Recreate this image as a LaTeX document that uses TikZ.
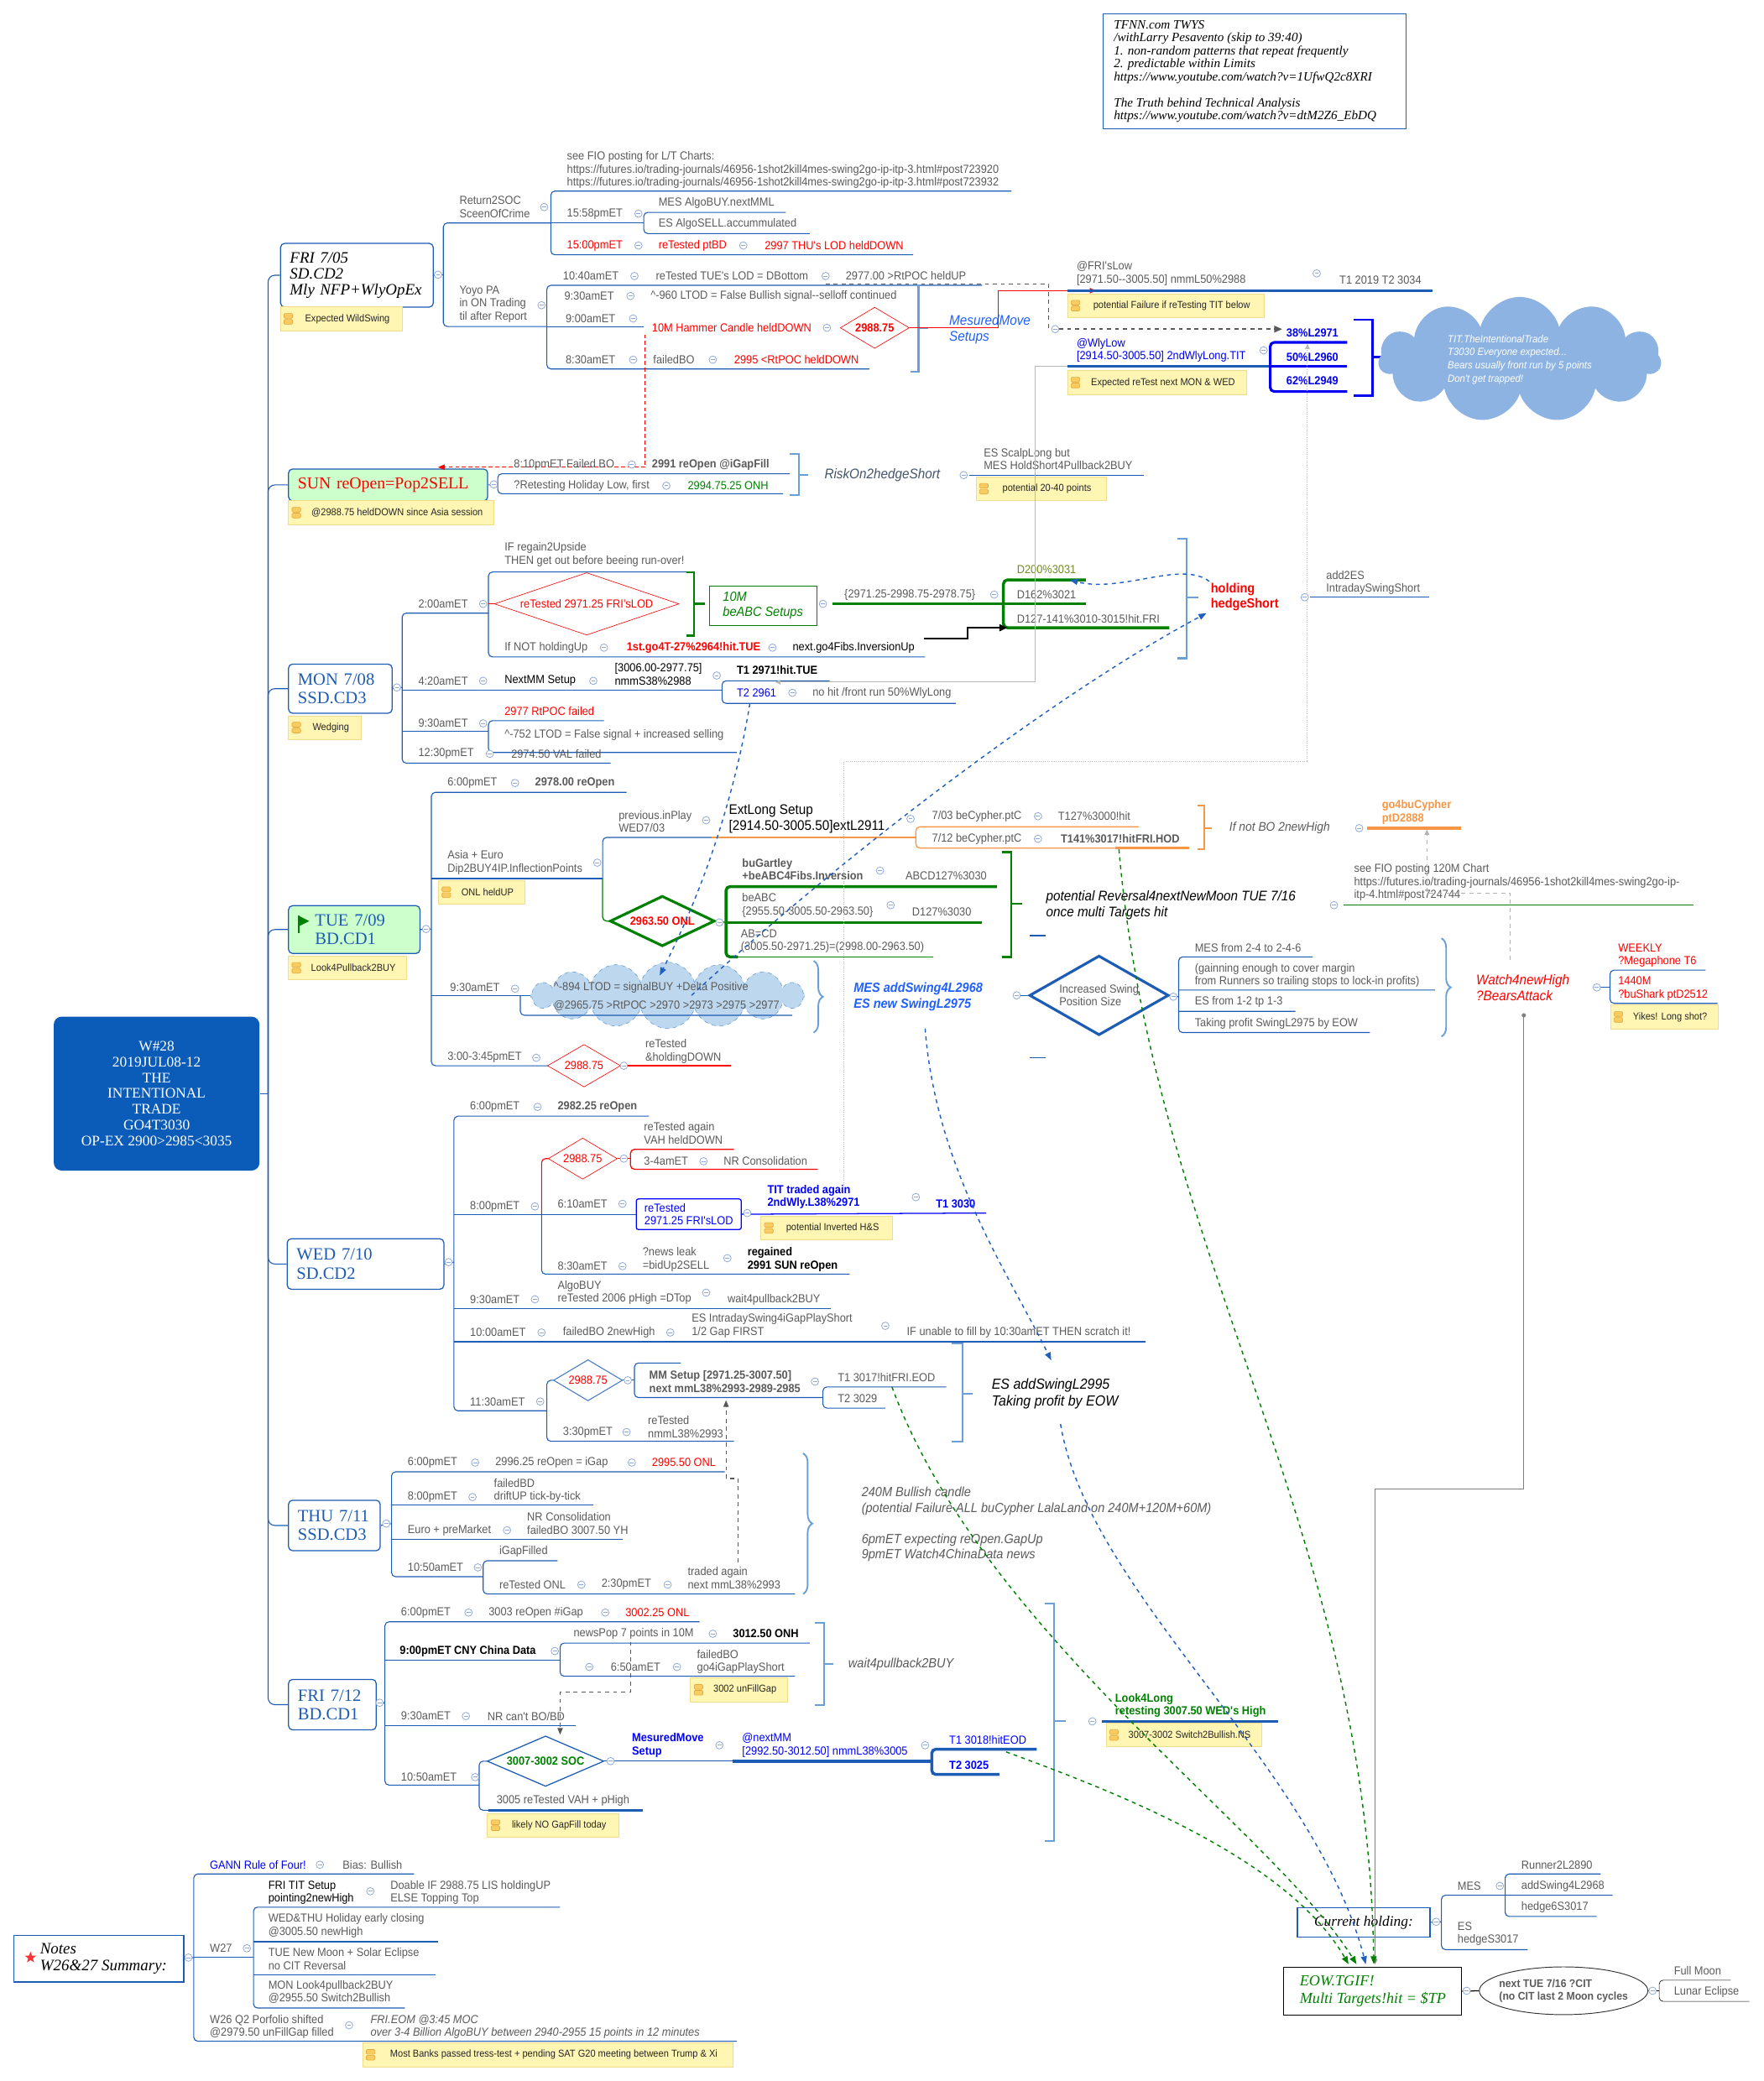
\documentclass[tikz,border=0pt]{standalone}
\usepackage{fontspec}
\setmainfont{Liberation Serif}
\newfontfamily\nar{Liberation Sans}[FakeStretch=0.92]
\usetikzlibrary{arrows.meta,shapes.geometric,shapes.symbols,decorations.pathreplacing,positioning}

\definecolor{lnblue}{HTML}{1D5CB4}
\definecolor{brk}{HTML}{6A9FD8}
\definecolor{txgray}{HTML}{5A5A5A}
\definecolor{ccol}{HTML}{8FA8D8}
\definecolor{noteY}{HTML}{FFF6B3}
\definecolor{noteB}{HTML}{F0DC8A}
\definecolor{iconO}{HTML}{F8CC60}
\definecolor{iconB}{HTML}{E6A93E}
\definecolor{rootB}{HTML}{0B5CB8}
\definecolor{grn}{HTML}{008000}
\definecolor{olv}{HTML}{6E8B1E}
\definecolor{orng}{HTML}{F79646}
\definecolor{cloudB}{HTML}{8DB3E2}
\definecolor{cloudL}{HTML}{BDD7EE}
\definecolor{sunG}{HTML}{CCFFCC}
\definecolor{tit}{HTML}{0000F0}
\definecolor{brblue}{HTML}{1F5FFF}
\definecolor{relblue}{HTML}{1F5FBF}
\definecolor{titgray}{HTML}{44546A}

\newcommand\tx[4][]{\node[tx,#1] (#2) at (#3) {#4};}
\newcommand\note[4][]{%
  \node[note,#1] (#2) at (#3) {\hspace*{9pt}#4};
  \draw[draw=iconB,fill=iconO,rounded corners=0.8pt] ([xshift=3pt,yshift=0.4pt]#2.west) rectangle ++(6.5pt,3.6pt);
  \draw[draw=iconB,fill=iconO,rounded corners=0.8pt] ([xshift=3pt,yshift=-0.4pt]#2.west) rectangle ++(6.5pt,-3.6pt);}

\begin{document}
\begin{tikzpicture}[x=1pt,y=-1pt,
  tx/.style={font=\nar\fontsize{8.8}{9.8}\selectfont, text=txgray, anchor=west, inner sep=0pt, align=left},
  bld/.style={font=\nar\bfseries\fontsize{8.8}{9.8}\selectfont},
  hd/.style={tx, font=\nar\itshape\fontsize{10.5}{12}\selectfont},
  ul/.style={draw=lnblue, line width=0.7pt},
  brkt/.style={draw=brk, line width=1.3pt},
  cbr/.style={draw=brk, line width=1.2pt, decorate, decoration={brace, amplitude=7pt}},
  day/.style={draw=lnblue, line width=0.8pt, rounded corners=3pt, fill=white, anchor=north west, align=left, text=lnblue, font=\fontsize{13}{14}\selectfont, inner xsep=7pt, inner ysep=0pt},
  note/.style={fill=noteY, draw=noteB, line width=0.5pt, anchor=north west, minimum height=18, inner xsep=3pt, inner ysep=0pt, font=\nar\fontsize{7.6}{8.5}\selectfont, text=black!85},
  rdia/.style={diamond, draw=red, text=red, inner sep=0pt, aspect=1.7, font=\nar\fontsize{8.8}{9.8}\selectfont},
  reld/.style={dashed, line width=0.9pt, -{Triangle[length=6pt,width=4.5pt]}},
  grel/.style={draw=gray!55, line width=0.6pt, -{Triangle[length=4pt,width=3.5pt]}},
  cc/.pic={\draw[ccol,line width=0.5pt,fill=white] (0,0) circle (2.8); \draw[ccol,line width=0.5pt] (-1.5,0) -- (1.5,0);}
]
\useasboundingbox (0,0) rectangle (1329,1568);

% reference box top right
\node[draw=lnblue, line width=0.6pt, anchor=north west, minimum width=228, minimum height=87, inner sep=0pt] (tfnn) at (831,10) {};
\node[anchor=north west, align=left, inner sep=0pt, font=\itshape\fontsize{9.6}{9.8}\selectfont] (tfnntx) at (839,15) {TFNN.com TWYS\\/withLarry Pesavento (skip to 39:40)\\1. non-random patterns that repeat frequently\\2. predictable within Limits\\https://www.youtube.com/watch?v=1UfwQ2c8XRI\\[9.8pt]The Truth behind Technical Analysis\\https://www.youtube.com/watch?v=dtM2Z6\_EbDQ};

% central topic and days
\node[fill=rootB, rounded corners=6pt, minimum width=155, minimum height=116, text=white, align=center, font=\fontsize{11}{12}\selectfont] (w28) at (118,824) {W\#28\\2019JUL08-12\\THE\\INTENTIONAL\\TRADE\\GO4T3030\\OP-EX 2900>2985<3035};
\node[day, text width=101, minimum height=48, text=black, font=\itshape\fontsize{12}{12}\selectfont] (fri05) at (211,183) {FRI 7/05\\SD.CD2\\Mly NFP+WlyOpEx};
\node[day, fill=sunG, text width=136, minimum height=24, text=red, font=\fontsize{12.5}{14}\selectfont] (sun) at (217,353) {SUN reOpen=Pop2SELL};
\node[day, text width=64, minimum height=37] (mon) at (217,500) {MON 7/08\\SSD.CD3};
\node[day, fill=sunG, text width=85, minimum height=36] (tue) at (217,682) {\hspace*{13pt}TUE 7/09\\\hspace*{13pt}BD.CD1};
\node[day, text width=104, minimum height=38] (wed) at (216,933) {WED 7/10\\SD.CD2};
\node[day, text width=55, minimum height=38] (thu) at (217,1130) {THU 7/11\\SSD.CD3};
\node[day, text width=52, minimum height=38] (fri12) at (217,1265) {FRI 7/12\\BD.CD1};
\fill[grn] (225,690) -- (233,694) -- (225,698) -- cycle;
\draw[grn, line width=0.8pt] (225,690) -- (225,703);
\note[minimum width=92]{nfri}{211,231}{Expected WildSwing}
\note[minimum width=155]{nsun}{217,377}{@2988.75 heldDOWN since Asia session}
\note[minimum width=55]{nmon}{217,539}{Wedging}
\note[minimum width=89]{ntue}{217,720}{Look4Pullback2BUY}
\draw[ul] (w28.east) -- (202,824);
\foreach \d in {fri05,sun,mon,tue,wed,thu,fri12}
  \draw[ul,rounded corners=5pt] (\d.west) -| (202,824);

% FRI 7/05
\draw[ul] (fri05.east) -- (334,207);
\draw[ul,rounded corners=3pt] (415,168) -- (334,168) -- (334,246) -- (412,246);
\tx{ret}{346,156}{Return2SOC\\SceenOfCrime}
\draw[ul,rounded corners=3pt] (762,144) -- (415,144) -- (415,192) -- (688,192);
\draw[ul] (415,168) -- (485,168);
\tx{fio}{427,128}{see FIO posting for L/T Charts:\\https://futures.io/trading-journals/46956-1shot2kill4mes-swing2go-ip-itp-3.html\#post723920\\https://futures.io/trading-journals/46956-1shot2kill4mes-swing2go-ip-itp-3.html\#post723932}
\tx{t1558}{427,161}{15:58pmET}
\draw[ul,rounded corners=3pt] (592,160) -- (485,160) -- (485,176) -- (610,176);
\tx{mesalgo}{496,153}{MES AlgoBUY.nextMML}
\tx{esalgo}{496,169}{ES AlgoSELL.accummulated}
\tx[text=red]{t1500}{427,185}{15:00pmET}
\tx[text=red]{ptbd}{496,185}{reTested ptBD}
\tx[text=red]{thulod}{576,185}{2997 THU's LOD heldDOWN}
\tx{yoyo}{346,229}{Yoyo PA\\in ON Trading\\til after Report}
\draw[ul,rounded corners=3pt] (740,215) -- (412,215) -- (412,278) -- (655,278);
\draw[ul] (412,246) -- (485,246);
\tx{t1040}{424,208}{10:40amET}
\tx{tuelod}{494,208}{reTested TUE's LOD = DBottom}
\tx{rtpocup}{637,208}{2977.00 >RtPOC heldUP}
\tx{t930a}{425,223}{9:30amET}
\tx{ltod960}{490,223}{\textasciicircum-960 LTOD = False Bullish signal-{}-selloff continued}
\tx{t900}{426,240}{9:00amET}
\tx[text=red]{hammer}{491,247}{10M Hammer Candle heldDOWN}
\node[rdia, minimum width=52, minimum height=31, font=\nar\bfseries\fontsize{8.8}{9.8}\selectfont] (d2988a) at (659,247) {2988.75};
\tx{t830a}{426,271}{8:30amET}
\tx{fboa}{492,271}{failedBO}
\tx[text=red]{rtpoc2995}{553,271}{2995 <RtPOC heldDOWN}
\draw[brkt] (686,215) -- (692,215) -- (692,280) -- (686,280);
\draw[brkt] (692,247) -- (699,247);
\node[hd, text=brblue] (mmset) at (715,248) {MesuredMove\\Setups};
\draw[red, line width=0.8pt, -{Triangle[length=5pt,width=4pt]}] (d2988a.east) -- (752,247) -- (752,219) -- (826,219);
\draw[red, densely dashed, line width=0.6pt, -{Triangle[length=5pt,width=4pt]}] (486,252) |- (330,352);
\draw[gray!70!black, dashed, line width=1.1pt, -{Triangle[length=6pt,width=5pt]}] (622,214) -- (790,214) -- (790,248) -- (966,248);

% weekly levels top right
\tx{frilow}{811,206}{@FRI'sLow\\{}[2971.50--3005.50] nmmL50\%2988}
\draw[lnblue, line width=2.2pt] (804,219) -- (1079,219);
\tx{t12019}{1009,211}{T1 2019 T2 3034}
\note[minimum width=148]{nfail}{804,221}{potential Failure if reTesting TIT below}
\tx[text=tit]{wlylow}{811,264}{@WlyLow\\{}[2914.50-3005.50] 2ndWlyLong.TIT}
\draw[lnblue, line width=2.2pt] (804,276) -- (957,276);
\note[minimum width=135]{nretest}{804,279}{Expected reTest next MON \& WED}
\tx[text=tit, bld]{fib38}{969,251}{38\%L2971}
\tx[text=tit, bld]{fib50}{969,269}{50\%L2960}
\tx[text=tit, bld]{fib62}{969,287}{62\%L2949}
\draw[tit, line width=2pt, rounded corners=3pt] (1015,258) -- (957,258) -- (957,295) -- (1015,295);
\draw[tit, line width=2pt] (957,276) -- (1015,276);
\draw[tit, line width=1.5pt] (1020,241) -- (1034,241) -- (1034,298) -- (1020,298);
\draw[tit, line width=1.5pt] (1034,269) -- (1047,269);
\node[cloud, cloud puffs=11, aspect=2.4, fill=cloudB, minimum width=213, minimum height=88, inner sep=0pt, text=white, align=left, font=\nar\itshape\fontsize{7.8}{10}\selectfont] (titcloud) at (1145,271) {TIT.TheIntentionalTrade\\T3030 Everyone expected...\\Bears usually front run by 5 points\\Don't get trapped!};

% SUN
\draw[ul] (sun.east) -- (375,365);
\draw[ul,rounded corners=3pt] (595,357) -- (375,357) -- (375,372) -- (590,372);
\tx{fbo810}{387,350}{8:10pmET Failed BO}
\tx[bld]{reopen2991}{491,350}{2991 reOpen @iGapFill}
\tx{holiday}{387,366}{?Retesting Holiday Low, first}
\tx[text=grn]{onh}{518,366}{2994.75.25 ONH}
\draw[brkt] (595,342) -- (602,342) -- (602,373) -- (595,373);
\draw[brkt] (602,358) -- (609,358);
\node[hd, text=titgray] (risk) at (621,358) {RiskOn2hedgeShort};
\draw[ul] (730,358) -- (862,358);
\tx{scalp}{741,346}{ES ScalpLong but\\MES HoldShort4Pullback2BUY}
\note[minimum width=98]{n2040}{735,359}{potential 20-40 points}

% MON
\draw[ul] (mon.east) -- (303,518);
\draw[ul,rounded corners=3pt] (368,462) -- (303,462) -- (303,575) -- (460,575);
\draw[ul] (303,520) -- (544,520);
\draw[ul] (303,551) -- (368,551);
\tx{t200}{315,455}{2:00amET}
\draw[ul,rounded corners=3pt] (522,431) -- (368,431) -- (368,495) -- (697,495);
\tx{ifregain}{380,418}{IF regain2Upside\\THEN get out before beeing run-over!}
\node[rdia, aspect=3, minimum width=139, minimum height=47] (rt2971) at (442,455) {reTested 2971.25 FRI'sLOD};
\draw[red] (368,455) -- (rt2971.west);
\tx{ifnot}{380,488}{If NOT holdingUp}
\tx[text=red, bld]{go4t}{472,488}{1st.go4T-27\%2964!hit.TUE}
\tx[text=black]{go4fibs}{597,488}{next.go4Fibs.InversionUp}
\draw[grn, line width=1.5pt] (517,431) -- (523,431) -- (523,479) -- (517,479);
\draw[grn, line width=1.5pt] (523,455) -- (531,455);
\node[draw=grn, line width=0.6pt, anchor=north west, minimum width=81, minimum height=30, align=left, text=grn, font=\nar\itshape\fontsize{10}{11}\selectfont, inner xsep=5pt] (beabc) at (534,441) {10M\\beABC Setups};
\draw[grn, line width=2.2pt] (627,455) -- (818,455);
\tx{fibrng}{636,448}{\{2971.25-2998.75-2978.75\}}
\draw[grn, line width=2.2pt, rounded corners=3pt] (818,437) -- (756,437) -- (756,473) -- (881,473);
\tx[text=olv]{d200}{766,429}{D200\%3031}
\tx{d162}{766,448}{D162\%3021}
\tx{d127}{766,466}{D127-141\%3010-3015!hit.FRI}
\draw[black, line width=1.5pt, -{Triangle[length=6pt,width=5pt]}] (696,481) -- (729,481) -- (729,473) -- (759,473);
\draw[brkt] (887,406) -- (894,406) -- (894,496) -- (887,496);
\draw[brkt] (894,450) -- (903,450);
\node[tx, text=red, font=\nar\bfseries\fontsize{10}{11.5}\selectfont] (holding) at (912,450) {holding\\hedgeShort};
\tx{add2es}{999,439}{add2ES\\IntradaySwingShort}
\draw[ul] (987,450) -- (1077,450);
\tx{t420}{315,513}{4:20amET}
\tx[text=black]{nextmm}{380,513}{NextMM Setup}
\tx[text=black]{nmms}{463,508}{[3006.00-2977.75]\\nmmS38\%2988}
\draw[ul,rounded corners=3pt] (625,513) -- (544,513) -- (544,530) -- (720,530);
\tx[text=black, bld]{t12971}{555,505}{T1 2971!hit.TUE}
\tx[text=blue]{t22961}{555,522}{T2 2961}
\tx{nohit}{612,522}{no hit /front run 50\%WlyLong}
\tx{t930m}{315,545}{9:30amET}
\draw[ul,rounded corners=3pt] (455,543) -- (368,543) -- (368,567) -- (555,567);
\tx[text=red]{rtpocf}{380,536}{2977 RtPOC failed}
\tx{ltod752}{380,554}{\textasciicircum-752 LTOD = False signal + increased selling}
\tx{t1230}{315,568}{12:30pmET}
\tx{val}{385,568}{2974.50 VAL failed}

% TUE
\draw[ul] (tue.east) -- (325,700);
\draw[ul,rounded corners=3pt] (472,597) -- (325,597) -- (325,803) -- (413,803);
\draw[ul] (325,662) -- (454,662);
\draw[ul] (325,750) -- (410,750);
\tx{t600t}{337,590}{6:00pmET}
\tx[bld]{reopen2978}{403,590}{2978.00 reOpen}
\tx{asia}{337,650}{Asia + Euro\\Dip2BUY4IP.InflectionPoints}
\note[minimum width=65]{nonl}{330,663}{ONL heldUP}
\draw[ul,rounded corners=3pt] (536,631) -- (454,631) -- (454,662);
\draw[orng, line width=0.8pt] (536,631) -- (690,631);
\draw[grn, line width=0.8pt, rounded corners=3pt] (454,662) -- (454,694) -- (461,694);
\tx{prevplay}{466,619}{previous.inPlay\\WED7/03}
\node[tx, text=black, font=\nar\fontsize{10.5}{12}\selectfont] (extlong) at (549,617) {ExtLong Setup\\{}[2914.50-3005.50]extL2911};
\draw[orng, line width=0.8pt, rounded corners=3pt] (858,623) -- (690,623) -- (690,639) -- (840,639);
\draw[orng, line width=2.2pt] (840,639) -- (896,639);
\tx{b703}{702,615}{7/03 beCypher.ptC}
\tx{t127}{797,615}{T127\%3000!hit}
\tx{b712}{702,632}{7/12 beCypher.ptC}
\tx[bld]{t141}{799,632}{T141\%3017!hitFRI.HOD}
\draw[orng, line width=1.3pt] (902,607) -- (907,607) -- (907,640) -- (902,640);
\draw[orng, line width=1.3pt] (907,624) -- (913,624);
\node[hd, font=\nar\itshape\fontsize{9.5}{11}\selectfont] (ifnotbo) at (926,624) {If not BO 2newHigh};
\tx[text=orng, bld]{go4bu}{1041,612}{go4buCypher\\ptD2888}
\draw[orng, line width=2.2pt] (1030,624) -- (1101,624);
\node[diamond, draw=grn, line width=2pt, text=red, aspect=2, minimum width=79, minimum height=38, inner sep=0pt, font=\nar\bfseries\fontsize{8.8}{9.8}\selectfont] (onl) at (499,694) {2963.50 ONL};
\draw[grn, line width=0.8pt] (onl.east) -- (547,695);
\draw[grn, line width=2.2pt, rounded corners=3pt] (751,668) -- (547,668) -- (547,721) -- (556,721);
\draw[grn, line width=2.2pt] (547,695) -- (740,695);
\draw[grn, line width=0.8pt] (556,721) -- (703,721);
\tx[bld]{bugart}{559,655}{buGartley\\+beABC4Fibs.Inversion}
\tx{abcd127}{682,660}{ABCD127\%3030}
\tx{beabcfib}{559,682}{beABC\\\{2955.50-3005.50-2963.50\}}
\tx{d127b}{687,687}{D127\%3030}
\tx{abcd}{558,709}{AB=CD\\(3005.50-2971.25)=(2998.00-2963.50)}
\draw[grn, line width=1.5pt] (755,642) -- (762,642) -- (762,721) -- (755,721);
\draw[grn, line width=1.5pt] (762,681) -- (770,681);
\node[hd, text=black] (revers) at (788,682) {potential Reversal4nextNewMoon TUE 7/16\\once multi Targets hit};
\draw[grn, line width=0.8pt] (1012,682) -- (1276,682);
\tx{fio120}{1020,665}{see FIO posting 120M Chart\\https://futures.io/trading-journals/46956-1shot2kill4mes-swing2go-ip-\\itp-4.html\#post724744}
\draw[lnblue, line width=0.8pt] (776,705) -- (788,705) (776,797) -- (788,797);
\node[cloud, cloud puffs=16, aspect=4.2, draw=brk, dashed, fill=cloudL, minimum width=207, minimum height=50, inner sep=0pt] (cld) at (503,750) {};
\draw[ul,rounded corners=3pt] (392,750) -- (392,765) -- (597,765);
\tx{ltod894}{417,744}{\textasciicircum-894 LTOD = signalBUY +Delta Positive}
\tx{rtpoc2965}{417,758}{@2965.75 >RtPOC >2970 >2973 >2975 >2977}
\tx{t930t}{339,744}{9:30amET}
\draw[cbr] (613,724) -- (613,778);
\node[tx, text=brblue, font=\nar\bfseries\itshape\fontsize{10}{11.5}\selectfont] (mesadd) at (643,751) {MES addSwing4L2968\\ES new SwingL2975};
\node[diamond, draw=lnblue, line width=2pt, aspect=1.75, minimum width=105, minimum height=60, inner sep=0pt, text=txgray, align=left, font=\nar\fontsize{8.8}{9.8}\selectfont] (incsw) at (828,750) {Increased Swing\\Position Size};
\draw[ul] (769,750) -- (incsw.west);
\draw[ul,rounded corners=3pt] (989,721) -- (888,721) -- (888,778) -- (1032,778);
\draw[ul] (888,746) -- (1081,746) (888,762) -- (976,762) (incsw.east) -- (888,751);
\tx{mes246}{900,714}{MES from 2-4 to 2-4-6}
\tx{gain}{900,735}{(gainning enough to cover margin\\from Runners so trailing stops to lock-in profits)}
\tx{es123}{900,755}{ES from 1-2 tp 1-3}
\tx{takepr}{900,771}{Taking profit SwingL2975 by EOW}
\draw[cbr] (1086,707) -- (1086,781);
\node[hd, text=red] (watch) at (1112,744) {Watch4newHigh\\?BearsAttack};
\draw[ul,rounded corners=3pt] (1285,731) -- (1213,731) -- (1213,756) -- (1294,756);
\draw[ul] (1206,744) -- (1213,744);
\tx[text=red]{weekly}{1219,720}{WEEKLY\\?Megaphone T6}
\tx[text=red]{m1440}{1219,745}{1440M\\?buShark ptD2512}
\note[minimum width=81]{nyikes}{1213,757}{Yikes! Long shot?}
\tx{t300}{337,797}{3:00-3:45pmET}
\node[rdia, minimum width=55, minimum height=32] (d2988b) at (440,803) {2988.75};
\draw[red, line width=0.8pt] (473,803) -- (551,803);
\tx{retdown}{486,792}{reTested\\\&holdingDOWN}

% WED
\draw[ul] (wed.east) -- (342,951);
\draw[ul,rounded corners=3pt] (489,841) -- (342,841) -- (342,1063) -- (412,1063);
\draw[ul] (342,915) -- (408,915) (342,986) -- (626,986) (342,1011) -- (863,1011);
\tx{t600w}{354,834}{6:00pmET}
\tx[bld]{reopen2982}{420,834}{2982.25 reOpen}
\tx{t800w}{354,909}{8:00pmET}
\draw[red, line width=0.7pt, rounded corners=3pt] (413,873) -- (408,873) -- (408,915);
\draw[ul,rounded corners=3pt] (408,915) -- (408,960) -- (640,960);
\draw[ul] (408,915) -- (479,915);
\node[rdia, minimum width=52, minimum height=31] (d2988c) at (439,873) {2988.75};
\draw[red, line width=0.8pt, rounded corners=3pt] (553,866) -- (475,866) -- (475,881) -- (616,881);
\draw[red] (d2988c.east) -- (475,873);
\tx{vah}{485,854}{reTested again\\VAH heldDOWN}
\tx{t34}{485,875}{3-4amET}
\tx{nrcons}{545,875}{NR Consolidation}
\tx{t610}{420,907}{6:10amET}
\node[draw=blue, line width=0.8pt, rounded corners=1.5pt, anchor=north west, minimum width=79, minimum height=23, align=left, text=blue, font=\nar\fontsize{8.8}{9.8}\selectfont, inner xsep=4pt, inner ysep=0pt] (rt2971b) at (479,903) {reTested\\2971.25 FRI'sLOD};
\draw[blue, line width=0.8pt] (rt2971b.east) -- (743,914);
\tx[text=blue, bld]{titagain}{578,902}{TIT traded again\\2ndWly.L38\%2971}
\tx[text=blue, bld]{t13030}{705,907}{T1 3030}
\note[minimum width=99]{ninvhs}{573,916}{potential Inverted H\&S}
\tx{t830w}{420,954}{8:30amET}
\tx{newsleak}{484,949}{?news leak\\=bidUp2SELL}
\tx[text=black, bld]{regained}{563,949}{regained\\2991 SUN reOpen}
\tx{t930w}{354,979}{9:30amET}
\tx{algobuy}{420,974}{AlgoBUY\\reTested 2006 pHigh =DTop}
\tx{w4pb}{548,979}{wait4pullback2BUY}
\tx{t1000}{354,1004}{10:00amET}
\tx{fbo2nh}{424,1004}{failedBO 2newHigh}
\tx{esintra}{521,999}{ES IntradaySwing4iGapPlayShort\\1/2 Gap FIRST}
\tx{ifunable}{683,1004}{IF unable to fill by 10:30amET THEN scratch it!}
\tx{t1130}{354,1056}{11:30amET}
\draw[ul,rounded corners=3pt] (417,1040) -- (412,1040) -- (412,1086) -- (553,1086);
\node[diamond, draw=lnblue!80, line width=0.7pt, text=red, aspect=1.7, minimum width=52, minimum height=31, inner sep=0pt, font=\nar\fontsize{8.8}{9.8}\selectfont] (d2988d) at (443,1040) {2988.75};
\draw[ul,rounded corners=3pt] (513,1027) -- (478,1027) -- (478,1053) -- (620,1053);
\draw[ul] (d2988d.east) -- (478,1040);
\tx[bld]{mmsetup}{489,1041}{MM Setup [2971.25-3007.50]\\next mmL38\%2993-2989-2985}
\draw[ul,rounded corners=3pt] (713,1045) -- (620,1045) -- (620,1061) -- (667,1061);
\tx{t13017}{631,1038}{T1 3017!hitFRI.EOD}
\tx{t23029}{631,1054}{T2 3029}
\tx{t330}{424,1079}{3:30pmET}
\tx{retnmm}{488,1075}{reTested\\nmmL38\%2993}
\draw[brkt] (717,1012) -- (725,1012) -- (725,1086) -- (717,1086);
\draw[brkt] (725,1050) -- (733,1050);
\node[hd, text=black, font=\nar\itshape\fontsize{11}{12.5}\selectfont] (esadd) at (747,1050) {ES addSwingL2995\\Taking profit by EOW};
\draw[gray!70!black, dashed, line width=0.8pt, -{Triangle[length=5pt,width=4pt]}] (556,1177) -- (556,1114) -- (547,1114) -- (547,1055);

% THU
\draw[ul] (thu.east) -- (295,1148);
\draw[ul,rounded corners=3pt] (546,1109) -- (295,1109) -- (295,1188) -- (364,1188);
\draw[ul] (295,1134) -- (447,1134) (295,1160) -- (469,1160);
\tx{t600h}{307,1102}{6:00pmET}
\tx{reopen2996}{373,1102}{2996.25 reOpen = iGap}
\tx[text=red]{onl2995}{491,1102}{2995.50 ONL}
\tx{t800h}{307,1128}{8:00pmET}
\tx{failedbd}{372,1123}{failedBD\\driftUP tick-by-tick}
\tx{europm}{307,1153}{Euro + preMarket}
\tx{nrcons2}{397,1148}{NR Consolidation\\failedBO 3007.50 YH}
\tx{t1050h}{307,1181}{10:50amET}
\draw[ul,rounded corners=3pt] (420,1176) -- (364,1176) -- (364,1201) -- (599,1201);
\tx{igapf}{376,1169}{iGapFilled}
\tx{retonl}{376,1194}{reTested ONL}
\tx{t230}{453,1194}{2:30pmET}
\tx{tradedagain}{518,1189}{traded again\\next mmL38\%2993}
\draw[cbr] (605,1095) -- (605,1201);
\node[hd, font=\nar\itshape\fontsize{10}{11.5}\selectfont] (bull240) at (649,1131) {240M Bullish candle\\(potential Failure ALL buCypher LalaLand on 240M+120M+60M)};
\node[hd, font=\nar\itshape\fontsize{10}{11.5}\selectfont] (gapup) at (649,1166) {6pmET expecting reOpen.GapUp\\9pmET Watch4ChinaData news};

% FRI 7/12
\draw[ul] (fri12.east) -- (290,1283);
\draw[ul,rounded corners=3pt] (527,1222) -- (290,1222) -- (290,1345) -- (361,1345);
\draw[ul] (290,1251) -- (422,1251) (290,1300) -- (434,1300);
\tx{t600f}{302,1215}{6:00pmET}
\tx{reopen3003}{368,1215}{3003 reOpen \#iGap}
\tx[text=red]{onl3002}{471,1215}{3002.25 ONL}
\tx[text=black, bld]{cny}{301,1244}{9:00pmET CNY China Data}
\draw[ul,rounded corners=3pt] (610,1238) -- (422,1238) -- (422,1263) -- (599,1263);
\tx{newspop}{432,1231}{newsPop 7 points in 10M}
\tx[text=black, bld]{onh3012}{552,1231}{3012.50 ONH}
\tx{t650}{460,1256}{6:50amET}
\tx{fbogo4}{525,1252}{failedBO\\go4iGapPlayShort}
\note[minimum width=73]{nunfill}{520,1264}{3002 unFillGap}
\draw[brkt] (614,1223) -- (621,1223) -- (621,1285) -- (614,1285);
\draw[brkt] (621,1254) -- (628,1254);
\node[hd, font=\nar\itshape\fontsize{10}{11.5}\selectfont] (w4pb2) at (639,1254) {wait4pullback2BUY};
\tx{t930f}{302,1293}{9:30amET}
\tx{nrcant}{367,1293}{NR can't BO/BD}
\tx{t1050f}{302,1339}{10:50amET}
\draw[ul,rounded corners=3pt] (367,1327) -- (361,1327) -- (361,1364) -- (368,1364);
\draw[lnblue, line width=2.2pt] (368,1364) -- (484,1364);
\node[diamond, draw=lnblue, line width=0.8pt, text=grn, aspect=2.3, minimum width=88, minimum height=38, inner sep=0pt, font=\nar\bfseries\fontsize{8.8}{9.8}\selectfont] (soc) at (411,1327) {3007-3002 SOC};
\draw[ul] (soc.east) -- (552,1327);
\draw[lnblue, line width=2.2pt] (552,1327) -- (702,1327);
\tx[text=blue, bld]{mmsetup2}{476,1315}{MesuredMove\\Setup}
\tx[text=blue]{nextmm2}{559,1315}{@nextMM\\{}[2992.50-3012.50] nmmL38\%3005}
\draw[lnblue, line width=2.2pt, rounded corners=3pt] (781,1318) -- (702,1318) -- (702,1337) -- (753,1337);
\tx[text=blue]{t13018}{715,1311}{T1 3018!hitEOD}
\tx[text=blue, bld]{t23025}{715,1330}{T2 3025}
\tx{vah3005}{374,1357}{3005 reTested VAH + pHigh}
\note[minimum width=99]{ngapfill}{367,1366}{likely NO GapFill today}
\draw[gray!70!black, dashed, line width=0.8pt, -{Triangle[length=5pt,width=4pt]}] (475,1237) -- (475,1275) -- (422,1275) -- (422,1307);
\draw[brkt] (787,1208) -- (794,1208) -- (794,1387) -- (787,1387);
\draw[brkt] (794,1297) -- (803,1297);
\tx[text=grn, bld]{look4long}{840,1285}{Look4Long\\retesting 3007.50 WED's High}
\draw[lnblue, line width=2.2pt] (830,1297) -- (963,1297);
\note[minimum width=117]{nswitch}{833,1298}{3007-3002 Switch2Bullish.NS}

% notes summary
\node[draw=lnblue, line width=0.8pt, anchor=north west, minimum width=128, minimum height=35, inner sep=0pt] (notes) at (10,1458) {};
\node[anchor=west, align=left, inner sep=0pt, font=\itshape\fontsize{12}{13}\selectfont] (notestx) at (30,1476) {Notes\\W26\&27 Summary:};
\node[star, star points=5, star point ratio=2.4, fill=red!80, minimum size=9, inner sep=0pt] (star) at (23,1475) {};
\draw[ul] (notes.east) -- (146,1475);
\draw[ul,rounded corners=3pt] (312,1412) -- (146,1412) -- (146,1538) -- (555,1538);
\draw[ul] (146,1475) -- (191,1475);
\tx[text=blue]{gann}{158,1405}{GANN Rule of Four!}
\tx{bias}{258,1405}{Bias: Bullish}
\tx{w27}{158,1468}{W27}
\draw[ul,rounded corners=3pt] (422,1437) -- (191,1437) -- (191,1513) -- (305,1513);
\draw[ul] (191,1463) -- (330,1463) (191,1488) -- (328,1488);
\tx[text=black]{fritit}{202,1426}{FRI TIT Setup\\pointing2newHigh}
\tx{doable}{294,1426}{Doable IF 2988.75 LIS holdingUP\\ELSE Topping Top}
\tx{wedthu}{202,1451}{WED\&THU Holiday early closing\\@3005.50 newHigh}
\tx{tuemoon}{202,1476}{TUE New Moon + Solar Eclipse\\no CIT Reversal}
\tx{monlook}{202,1501}{MON Look4pullback2BUY\\@2955.50 Switch2Bullish}
\tx{w26}{158,1527}{W26 Q2 Porfolio shifted\\@2979.50 unFillGap filled}
\tx[font=\nar\itshape\fontsize{8.8}{9.8}\selectfont]{frieom}{279,1527}{FRI.EOM @3:45 MOC\\over 3-4 Billion AlgoBUY between 2940-2955 15 points in 12 minutes}
\note[minimum width=279]{nbanks}{273,1539}{Most Banks passed tress-test + pending SAT G20 meeting between Trump \& Xi}

% holdings and EOW
\node[draw=lnblue, line width=0.8pt, anchor=north west, minimum width=100, minimum height=22, inner sep=0pt, font=\itshape\fontsize{11}{13}\selectfont] (curhold) at (977,1437) {Current holding:};
\draw[ul] (curhold.east) -- (1086,1448);
\draw[ul,rounded corners=3pt] (1215,1428) -- (1086,1428) -- (1086,1469) -- (1151,1469);
\tx{mes}{1098,1421}{MES}
\draw[ul,rounded corners=3pt] (1206,1412) -- (1134,1412) -- (1134,1444) -- (1203,1444);
\tx{runner}{1146,1405}{Runner2L2890}
\tx{addsw}{1146,1421}{addSwing4L2968}
\tx{hedge6}{1146,1437}{hedge6S3017}
\tx{eshedge}{1098,1457}{ES\\hedgeS3017}
\node[draw=black, line width=0.6pt, anchor=north west, minimum width=134, minimum height=36, align=left, text=grn, font=\itshape\fontsize{11.5}{13}\selectfont, inner xsep=7pt] (eow) at (967,1482) {EOW.TGIF!\\Multi Targets!hit = \$TP};
\node[ellipse, draw=black!80, line width=0.6pt, minimum width=127, minimum height=36, inner xsep=-7pt, inner ysep=0pt, align=left, text=txgray, font=\nar\bfseries\fontsize{8.4}{9.8}\selectfont] (nexttue) at (1178,1500) {next TUE 7/16 ?CIT\\(no CIT last 2 Moon cycles};
\draw[black, line width=0.8pt] (eow.east) -- (nexttue.west);
\draw[black] (nexttue.east) -- (1250,1500);
\draw[black, rounded corners=3pt] (1304,1492) -- (1250,1492) -- (1250,1508) -- (1318,1508);
\tx{fullmoon}{1261,1485}{Full Moon}
\tx{lunar}{1261,1501}{Lunar Eclipse}

% relation lines
\draw[grel] (804,276) -- (780,276) -- (780,514) -- (584,514);
\draw[gray!55, line width=0.6pt, densely dotted, -{Triangle[length=4pt,width=3.5pt]}] (636,893) -- (636,574) -- (985,574) -- (985,259);
\draw[gray!60, dashed, line width=0.6pt, -{Triangle[length=4pt,width=3.5pt]}] (1138,723) -- (1138,673) -- (1075,673) -- (1075,625);
\fill[gray] (1148,765) circle (1.6);
\draw[grel, draw=gray] (1148,765) -- (1148,1122) -- (1036,1122) -- (1036,1480);
\draw[reld, relblue] (565,530) .. controls (550,620) and (520,690) .. (497,735);
\draw[reld, relblue] (521,750) .. controls (640,640) and (800,520) .. (909,462);
\draw[reld, relblue] (911,438) .. controls (890,422) and (845,447) .. (806,437);
\draw[reld, relblue] (697,775) .. controls (705,880) and (760,960) .. (792,1025);
\draw[reld, relblue] (799,1073) .. controls (820,1200) and (990,1330) .. (1029,1480);
\draw[reld, grn] (843,640) .. controls (870,950) and (1030,1150) .. (1035,1480);
\draw[reld, grn] (672,1045) .. controls (740,1230) and (960,1380) .. (1022,1480);
\draw[reld, grn] (758,1320) .. controls (840,1350) and (970,1400) .. (1016,1480);

% collapse markers
\foreach \x/\y in {330/207,410/156,481/161,481/185,560/185,408/230,478/208,622/208,475/223,477/240,623/247,477/271,537/271,795/248,992/206,952/264,
  372/365,476/350,502/366,726/358,299/518,364/455,455/488,582/488,620/455,749/448,983/450,364/513,447/513,540/509,597/522,364/545,369/568,
  321/700,388/590,450/650,532/618,686/617,782/615,782/632,1024/624,542/695,663/656,671/682,1005/682,388/745,766/750,884/751,1203/744,404/797,470/803,
  338/951,405/834,403/909,470/873,530/875,469/907,563/914,690/902,469/954,548/948,403/979,532/974,408/1004,505/1004,667/999,407/1056,473/1040,614/1041,472/1079,
  291/1148,358/1102,476/1102,356/1128,382/1153,360/1181,438/1194,503/1194,286/1283,353/1215,456/1215,418/1244,537/1231,444/1256,510/1256,351/1293,358/1339,
  460/1327,542/1315,697/1315,823/1297,142/1475,241/1405,186/1468,279/1425,263/1526,1082/1448,1130/1421,1105/1500,1245/1500}
  \pic at (\x,\y) {cc};
\end{tikzpicture}
\end{document}
